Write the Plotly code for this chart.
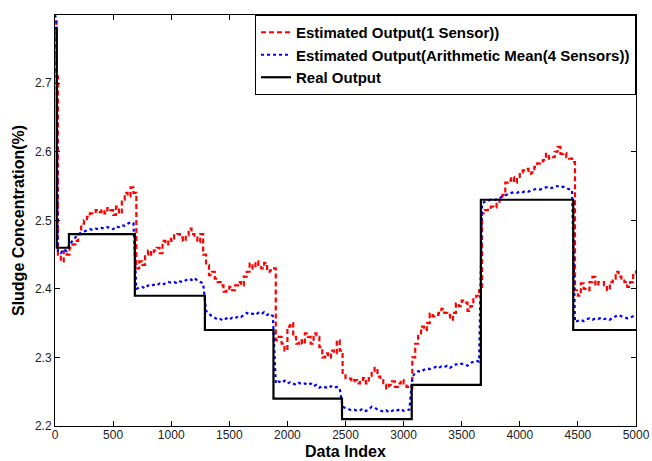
import plotly.graph_objects as go

# ---- data ----
x_est = [0, 12] + list(range(25, 5001, 25))

red_est = [2.79, 2.71,
    # 25-100
    2.45, 2.44, 2.455, 2.45,
    # 125-675
    2.46, 2.465, 2.47, 2.48, 2.495, 2.50, 2.505, 2.51, 2.51, 2.515, 2.512, 2.515,
    2.51, 2.518, 2.515, 2.508, 2.52, 2.51, 2.53, 2.54, 2.535, 2.548, 2.54,
    # 700-1275
    2.43, 2.44, 2.435, 2.45, 2.456, 2.45, 2.456, 2.46, 2.452, 2.47, 2.465, 2.473,
    2.47, 2.478, 2.48, 2.475, 2.47, 2.478, 2.488, 2.48, 2.475, 2.468, 2.48, 2.45,
    # 1300-1875
    2.435, 2.42, 2.425, 2.415, 2.41, 2.405, 2.396, 2.40, 2.403, 2.398, 2.405, 2.41,
    2.405, 2.418, 2.425, 2.437, 2.43, 2.44, 2.435, 2.43, 2.438, 2.425, 2.427, 2.43,
    # 1900-2450
    2.325, 2.33, 2.32, 2.31, 2.345, 2.35, 2.33, 2.32, 2.325, 2.32, 2.335, 2.33,
    2.32, 2.335, 2.33, 2.315, 2.30, 2.306, 2.30, 2.31, 2.306, 2.325, 2.31,
    # 2475-3050
    2.274, 2.27, 2.269, 2.265, 2.267, 2.262, 2.264, 2.27, 2.262, 2.27, 2.28, 2.285,
    2.272, 2.267, 2.26, 2.255, 2.26, 2.265, 2.257, 2.262, 2.267, 2.262, 2.257, 2.255,
    # 3075-3650
    2.30, 2.32, 2.335, 2.345, 2.34, 2.35, 2.364, 2.36, 2.362, 2.365, 2.371, 2.365,
    2.362, 2.355, 2.365, 2.379, 2.375, 2.383, 2.38, 2.368, 2.375, 2.388, 2.39, 2.398,
    # 3675-4450
    2.51, 2.515, 2.517, 2.52, 2.519, 2.527, 2.53, 2.537, 2.555, 2.558, 2.563, 2.555,
    2.56, 2.57, 2.573, 2.575, 2.568, 2.57, 2.578, 2.583, 2.586, 2.588, 2.597, 2.59,
    2.592, 2.60, 2.607, 2.597, 2.598, 2.592, 2.59, 2.585,
    # 4475-5000
    2.398, 2.39, 2.408, 2.40, 2.398, 2.41, 2.4175, 2.405, 2.41, 2.41, 2.405, 2.398,
    2.41, 2.415, 2.425, 2.418, 2.415, 2.41, 2.403, 2.41, 2.42, 2.427]

blue_est = [2.80, 2.79,
    # 25-100
    2.455, 2.452, 2.458, 2.455,
    # 125-675
    2.465, 2.47, 2.475, 2.48, 2.482, 2.484, 2.485, 2.487, 2.486, 2.488, 2.487, 2.489,
    2.488, 2.49, 2.489, 2.487, 2.491, 2.49, 2.493, 2.492, 2.495, 2.497, 2.496,
    # 700-1275
    2.40, 2.402, 2.403, 2.401, 2.405, 2.404, 2.406, 2.405, 2.408, 2.406, 2.408, 2.41,
    2.409, 2.41, 2.408, 2.411, 2.41, 2.413, 2.415, 2.413, 2.416, 2.412, 2.41, 2.408,
    # 1300-1875
    2.368, 2.364, 2.36, 2.358, 2.355, 2.356, 2.354, 2.357, 2.355, 2.358, 2.357, 2.36,
    2.359, 2.362, 2.365, 2.363, 2.364, 2.362, 2.365, 2.363, 2.366, 2.362, 2.364, 2.36,
    # 1900-2450
    2.262, 2.265, 2.263, 2.266, 2.262, 2.264, 2.262, 2.26, 2.263, 2.261, 2.262, 2.26,
    2.262, 2.258, 2.26, 2.256, 2.258, 2.257, 2.255, 2.258, 2.256, 2.257, 2.255,
    # 2475-3050
    2.228, 2.226, 2.225, 2.223, 2.224, 2.222, 2.223, 2.225, 2.222, 2.224, 2.228, 2.227,
    2.224, 2.222, 2.221, 2.223, 2.22, 2.222, 2.224, 2.223, 2.225, 2.222, 2.223, 2.224,
    # 3075-3650
    2.272, 2.277, 2.28, 2.279, 2.282, 2.284, 2.283, 2.285, 2.286, 2.284, 2.287, 2.286,
    2.288, 2.285, 2.287, 2.29, 2.289, 2.291, 2.29, 2.288, 2.292, 2.293, 2.295, 2.294,
    # 3675-4450
    2.525, 2.527, 2.528, 2.53, 2.529, 2.531, 2.533, 2.534, 2.536, 2.538, 2.54, 2.541,
    2.54, 2.542, 2.541, 2.543, 2.542, 2.544, 2.545, 2.546, 2.545, 2.547, 2.548, 2.549,
    2.547, 2.549, 2.55, 2.548, 2.549, 2.547, 2.546, 2.544,
    # 4475-5000
    2.352, 2.354, 2.355, 2.353, 2.356, 2.357, 2.355, 2.357, 2.356, 2.358, 2.356, 2.357,
    2.355, 2.358, 2.36, 2.362, 2.36, 2.359, 2.357, 2.358, 2.36, 2.362]

real_x = [0, 15, 120, 687, 1290, 1880, 2470, 3070, 3665, 4460, 5000]
real_y = [2.78, 2.46, 2.48, 2.39, 2.34, 2.24, 2.21, 2.26, 2.53, 2.34, 2.34]

x_ticks = list(range(0, 5001, 500))
y_ticks = [2.2, 2.3, 2.4, 2.5, 2.6, 2.7]

names = ["Estimated Output(1 Sensor))",
         "Estimated Output(Arithmetic Mean(4 Sensors))",
         "Real Output"]
x_title = "Data Index"
y_title = "Sludge Concentration(%)"

fig = go.Figure()
fig.add_trace(go.Scatter(x=x_est, y=red_est, mode="lines", name=names[0],
                         line=dict(color="#ff0000", width=2.2, dash="5px,3px", shape="hv")))
fig.add_trace(go.Scatter(x=x_est, y=blue_est, mode="lines", name=names[1],
                         line=dict(color="#0000ff", width=2.2, dash="dot")))
fig.add_trace(go.Scatter(x=real_x, y=real_y, mode="lines", name=names[2],
                         line=dict(color="#000000", width=2.2, shape="hv")))

axis_common = dict(showline=True, linecolor="#000000", linewidth=1, mirror="ticks",
                   ticks="inside", ticklen=5, tickcolor="#000000", showgrid=False,
                   zeroline=False, automargin=False,
                   tickfont=dict(family="Liberation Sans", size=12, color="#222222"))

fig.update_layout(
    width=652, height=461,
    margin=dict(l=55, r=16, t=15, b=35),
    plot_bgcolor="white", paper_bgcolor="white",
    xaxis=dict(range=[0, 5000], tickvals=x_ticks, ticktext=[str(v) for v in x_ticks],
               ticklabelstandoff=-2, **axis_common),
    yaxis=dict(range=[2.2, 2.7995], tickvals=y_ticks, ticktext=[str(v) for v in y_ticks],
               title=dict(text=y_title, standoff=6,
                          font=dict(family="Liberation Sans", size=16, color="#000000", weight="bold")),
               **axis_common),
    legend=dict(x=1, y=1, xanchor="right", yanchor="top",
                bgcolor="white", bordercolor="#000000", borderwidth=1,
                font=dict(family="Liberation Sans", size=15, color="#000000", weight="bold"),
                tracegroupgap=0, itemwidth=30),
    showlegend=True,
    annotations=[dict(text=x_title, xref="paper", yref="paper", x=0.5, y=-0.0852,
                      xanchor="center", yanchor="bottom", showarrow=False, borderpad=0,
                      font=dict(family="Liberation Sans", size=16, color="#000000", weight="bold"))],
)

fig.write_html("out.html")
